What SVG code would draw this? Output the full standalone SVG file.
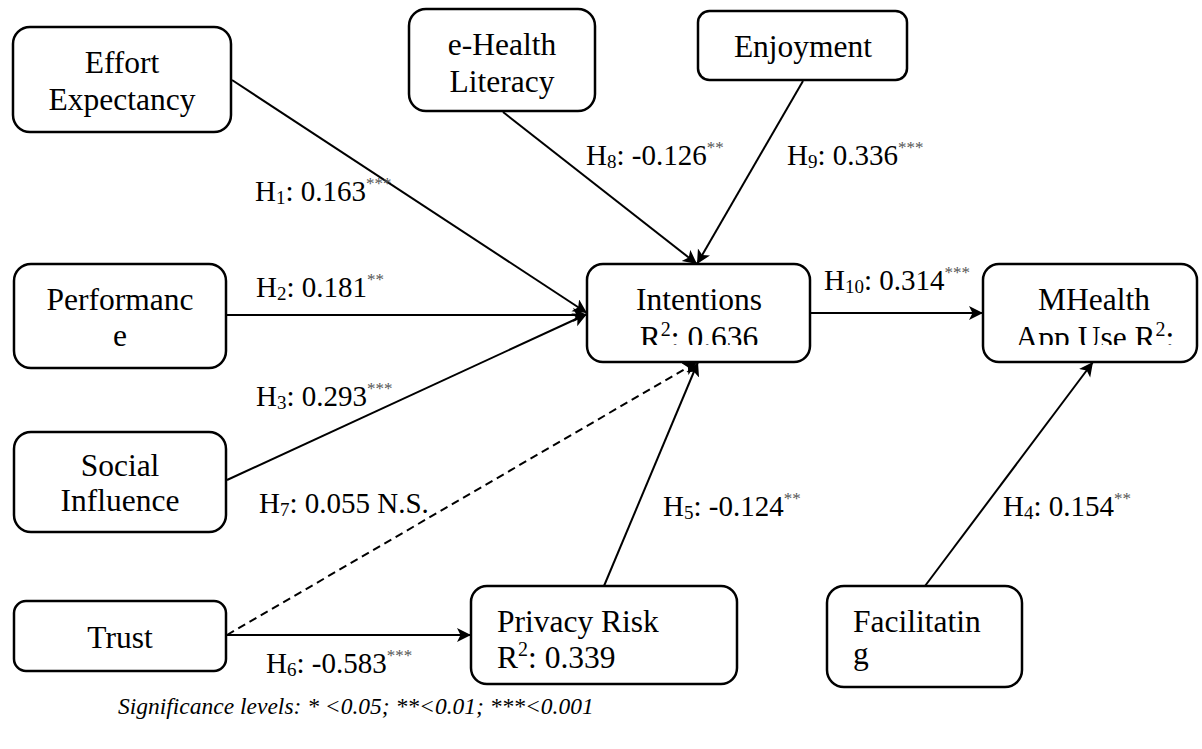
<svg xmlns="http://www.w3.org/2000/svg" width="1202" height="749" viewBox="0 0 1202 749">
<style>
.box{fill:#fff;stroke:#000;stroke-width:2.5}
.nt{font-family:"Liberation Serif","Times New Roman",serif;font-size:31.5px;fill:#000}
.lb{font-family:"Liberation Serif","Times New Roman",serif;font-size:29px;fill:#000}
.sub{font-size:19px}
.sup{font-size:17px;fill:#555}
.sup2{font-size:20px}
.ln{stroke:#000;stroke-width:2;fill:none}
.dash{stroke-dasharray:8 5}
.sig{font-family:"Liberation Serif","Times New Roman",serif;font-size:23.5px;font-style:italic;fill:#000}
</style>
<defs>
<marker id="ah" markerUnits="userSpaceOnUse" markerWidth="16" markerHeight="16" refX="14" refY="7" orient="auto">
<path d="M0,0 L14,7 L0,14 L3.5,7 z" fill="#000"/>
</marker>
<clipPath id="clipI"><rect x="587" y="264" width="223" height="81"/></clipPath>
<clipPath id="clipM"><rect x="983" y="264" width="214" height="81"/></clipPath>
</defs>
<rect width="1202" height="749" fill="#fff"/>
<g id="connectors">
<line class="ln" x1="232" y1="80" x2="587" y2="313" marker-end="url(#ah)"/>
<line class="ln" x1="226" y1="315" x2="587" y2="315" marker-end="url(#ah)"/>
<line class="ln" x1="227" y1="480" x2="587" y2="314" marker-end="url(#ah)"/>
<line class="ln" x1="503" y1="112" x2="697" y2="264" marker-end="url(#ah)"/>
<line class="ln" x1="803" y1="81" x2="697" y2="264" marker-end="url(#ah)"/>
<line class="ln dash" x1="227" y1="635" x2="697" y2="362" marker-end="url(#ah)"/>
<line class="ln" x1="604" y1="586" x2="698" y2="362" marker-end="url(#ah)"/>
<line class="ln" x1="810" y1="313" x2="983" y2="313" marker-end="url(#ah)"/>
<line class="ln" x1="925" y1="586" x2="1093" y2="362" marker-end="url(#ah)"/>
<line class="ln" x1="226" y1="635" x2="471" y2="635" marker-end="url(#ah)"/>
</g>
<g id="effort">
<rect class="box" x="13" y="27" width="218" height="105" rx="17"/>
<text class="nt" x="122" y="73" text-anchor="middle">Effort</text>
<text class="nt" x="122" y="110" text-anchor="middle">Expectancy</text>
</g>
<g id="ehealth">
<rect class="box" x="409" y="9" width="186" height="102" rx="17"/>
<text class="nt" x="502" y="55" text-anchor="middle">e-Health</text>
<text class="nt" x="502" y="92" text-anchor="middle">Literacy</text>
</g>
<g id="enjoyment">
<rect class="box" x="698" y="11" width="209" height="69" rx="11.5"/>
<text class="nt" x="803" y="57" text-anchor="middle">Enjoyment</text>
</g>
<g id="performance">
<rect class="box" x="14" y="264" width="212" height="104" rx="17"/>
<text class="nt" x="120" y="310" text-anchor="middle">Performanc</text>
<text class="nt" x="120" y="346" text-anchor="middle">e</text>
</g>
<g id="intentions">
<rect class="box" x="587" y="264" width="223" height="98" rx="16"/>
<text class="nt" x="699" y="310" text-anchor="middle">Intentions</text>
<text class="nt" x="699" y="348" text-anchor="middle" clip-path="url(#clipI)">R<tspan class="sup2" dy="-12">2</tspan><tspan dy="12">: 0.636</tspan></text>
</g>
<g id="mhealth">
<rect class="box" x="983" y="264" width="214" height="98" rx="16"/>
<text class="nt" x="1094" y="310" text-anchor="middle">MHealth</text>
<text class="nt" x="1095" y="348" text-anchor="middle" clip-path="url(#clipM)">App Use R<tspan class="sup2" dy="-12">2</tspan><tspan dy="12">:</tspan></text>
</g>
<g id="social">
<rect class="box" x="14" y="432" width="212" height="100" rx="17"/>
<text class="nt" x="120" y="476" text-anchor="middle">Social</text>
<text class="nt" x="120" y="511" text-anchor="middle">Influence</text>
</g>
<g id="trust">
<rect class="box" x="14" y="601" width="212" height="70" rx="12"/>
<text class="nt" x="120" y="648" text-anchor="middle">Trust</text>
</g>
<g id="privacy">
<rect class="box" x="471" y="586" width="266" height="98" rx="16"/>
<text class="nt" x="497" y="632">Privacy Risk</text>
<text class="nt" x="497" y="668">R<tspan class="sup2" dy="-12">2</tspan><tspan dy="12">: 0.339</tspan></text>
</g>
<g id="facilitating">
<rect class="box" x="827" y="586" width="195" height="101" rx="17"/>
<text class="nt" x="853" y="632">Facilitatin</text>
<text class="nt" x="853" y="664">g</text>
</g>
<g id="labels">
<text class="lb" x="255" y="201">H<tspan class="sub" dy="3">1</tspan><tspan dy="-3">: 0.163</tspan><tspan class="sup" dy="-12">***</tspan></text>
<text class="lb" x="256" y="297">H<tspan class="sub" dy="3">2</tspan><tspan dy="-3">: 0.181</tspan><tspan class="sup" dy="-12">**</tspan></text>
<text class="lb" x="256" y="406">H<tspan class="sub" dy="3">3</tspan><tspan dy="-3">: 0.293</tspan><tspan class="sup" dy="-12">***</tspan></text>
<text class="lb" x="259" y="513">H<tspan class="sub" dy="3">7</tspan><tspan dy="-3">: 0.055 N.S.</tspan></text>
<text class="lb" x="266" y="673">H<tspan class="sub" dy="3">6</tspan><tspan dy="-3">: -0.583</tspan><tspan class="sup" dy="-12">***</tspan></text>
<text class="lb" x="586" y="165">H<tspan class="sub" dy="3">8</tspan><tspan dy="-3">: -0.126</tspan><tspan class="sup" dy="-12">**</tspan></text>
<text class="lb" x="787" y="165">H<tspan class="sub" dy="3">9</tspan><tspan dy="-3">: 0.336</tspan><tspan class="sup" dy="-12">***</tspan></text>
<text class="lb" x="824" y="290">H<tspan class="sub" dy="3">10</tspan><tspan dy="-3">: 0.314</tspan><tspan class="sup" dy="-12">***</tspan></text>
<text class="lb" x="663" y="516">H<tspan class="sub" dy="3">5</tspan><tspan dy="-3">: -0.124</tspan><tspan class="sup" dy="-12">**</tspan></text>
<text class="lb" x="1003" y="516">H<tspan class="sub" dy="3">4</tspan><tspan dy="-3">: 0.154</tspan><tspan class="sup" dy="-12">**</tspan></text>
</g>
<text class="sig" x="118" y="714">Significance levels: * &lt;0.05; **&lt;0.01; ***&lt;0.001</text>
</svg>
